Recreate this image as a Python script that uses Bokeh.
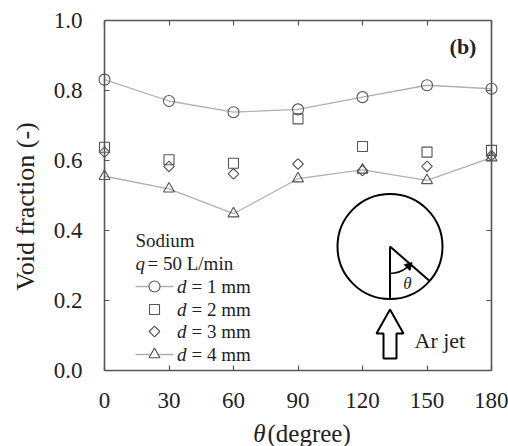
import math
from bokeh.plotting import figure
from bokeh.models import Range1d, LinearAxis, FixedTicker, CustomJSTickFormatter, NumeralTickFormatter
from bokeh.core.properties import value
from bokeh.embed import file_html
from bokeh.resources import INLINE

# ---- data ----
theta = [0, 30, 60, 90, 120, 150, 180]
d1 = [0.831, 0.770, 0.738, 0.746, 0.781, 0.815, 0.805]
d2 = [0.638, 0.602, 0.592, 0.719, 0.640, 0.624, 0.629]
d3 = [0.624, 0.583, 0.562, 0.590, 0.571, 0.583, 0.614]
d4 = [0.555, 0.519, 0.448, 0.548, 0.573, 0.543, 0.608]
x_ticks = [0, 30, 60, 90, 120, 150, 180]
y_ticks = [0.0, 0.2, 0.4, 0.6, 0.8, 1.0]
legend_labels = ["= 1 mm", "= 2 mm", "= 3 mm", "= 4 mm"]

# ---- layout ----
W, H = 508, 446
L, R, T, B = 104, 491, 20, 370   # axes box in pixels
FONT = "Liberation Serif"
MK = "#555555"
LN = "#b0b0b0"
AX = "#555555"


def X(px):
    return (px - L) / (R - L) * 180.0


def Y(py):
    return (B - py) / (B - T) * 1.0


p = figure(width=W, height=H, x_range=Range1d(X(0), X(W)), y_range=Range1d(Y(H), Y(0)),
           output_backend="svg", toolbar_location=None,
           x_axis_location=None, y_axis_location=None, min_border=0)
p.outline_line_color = None
p.xgrid.visible = False
p.ygrid.visible = False
p.background_fill_color = "white"
p.border_fill_color = "white"

blank = CustomJSTickFormatter(code="return ''")
bottom = LinearAxis(ticker=FixedTicker(ticks=x_ticks), fixed_location=0, bounds=(0, 180))
left = LinearAxis(ticker=FixedTicker(ticks=y_ticks), fixed_location=0, bounds=(0, 1),
                  formatter=NumeralTickFormatter(format="0.0"))
right = LinearAxis(ticker=FixedTicker(ticks=y_ticks), formatter=blank, fixed_location=180, bounds=(0, 1))
top = LinearAxis(ticker=FixedTicker(ticks=x_ticks), formatter=blank, fixed_location=1.0, bounds=(0, 180))
p.add_layout(bottom, "below")
p.add_layout(left, "left")
p.add_layout(right, "right")
p.add_layout(top, "above")

for ax in (bottom, left, right, top):
    ax.axis_line_color = AX
    ax.axis_line_width = 1.6
    ax.major_tick_line_color = AX
    ax.major_tick_line_width = 1.2
    ax.major_tick_in = 5
    ax.major_tick_out = 0
    ax.minor_tick_line_color = None
    ax.major_label_text_font = FONT
    ax.major_label_text_font_size = "23px"
    ax.major_label_text_color = "#222222"
right.major_label_standoff = 0
top.major_label_standoff = 0
left.major_label_standoff = 22
bottom.major_label_standoff = 22

# ---- series ----
p.line(theta, d1, line_color=LN, line_width=1.3)
p.line(theta, d4, line_color=LN, line_width=1.3)
p.scatter(theta, d1, marker="circle", size=11, fill_color=None, line_color=MK, line_width=1.1)
p.scatter(theta, d2, marker="square", size=10, fill_color=None, line_color=MK, line_width=1.1)
p.scatter(theta, d3, marker="square", size=7.5, angle=math.pi / 4, fill_color=None, line_color=MK, line_width=1.1)
p.scatter(theta, d4, marker="triangle", size=11, fill_color=None, line_color=MK, line_width=1.1)


def txt(x, y, s, size="19px", style="normal", align="left", baseline="middle", color="#222222", angle=0.0):
    p.text(x=[x], y=[y], text=[s], text_font=value(FONT), text_font_size=value(size),
           text_font_style=style, text_align=align, text_baseline=baseline, text_color=color,
           angle=angle)


# ---- axis titles ----
txt(X(25), Y(206), "Void fraction (-)", size="26px", align="center", angle=math.pi / 2)
txt(X(265), Y(433), "θ", size="25px", style="italic", align="right")
txt(X(267), Y(433), "(degree)", size="25px")

# ---- legend (manual, for italic d / q) ----
txt(X(135), Y(240), "Sodium")
txt(X(135), Y(263), "q", style="italic")
txt(X(147), Y(263), "= 50 L/min")
ly = [286, 309, 331, 354]
markers = ["circle", "square", "square", "triangle"]
sizes = [11, 10, 7.5, 11]
angles = [0, 0, math.pi / 4, 0]
for i, (py, mk, sz, an, lab) in enumerate(zip(ly, markers, sizes, angles, legend_labels)):
    if i in (0, 3):
        p.line([X(135), X(173)], [Y(py), Y(py)], line_color=LN, line_width=1.3)
    p.scatter([X(154)], [Y(py)], marker=mk, size=sz, angle=an,
              fill_color="white" if i in (0, 3) else None, line_color=MK, line_width=1.1)
    txt(X(176.5), Y(py), "d", style="italic")
    txt(X(191), Y(py), lab)

# ---- panel label ----
txt(X(462.5), Y(46), "(b)", size="22px", style="bold", align="center")

# ---- inset sketch ----
cx, cy = 389.5, 246
p.scatter([X(cx)], [Y(cy)], marker="circle", size=105, fill_color=None, line_color="black", line_width=2)
p.line([X(cx), X(cx)], [Y(cy), Y(298.5)], line_color="black", line_width=2)
ang = math.radians(49)
p.line([X(cx), X(cx + 52.5 * math.sin(ang))], [Y(cy), Y(cy + 52.5 * math.cos(ang))],
       line_color="black", line_width=2)
p.arc(x=[X(cx)], y=[Y(cy)], radius=27, radius_units="screen",
      start_angle=math.radians(-90), end_angle=math.radians(-50),
      line_color="black", line_width=1.5)
ea = math.radians(-46)
p.scatter([X(cx + 27 * math.cos(ea))], [Y(cy - 27 * math.sin(ea))], marker="triangle", size=8,
          angle=math.radians(-46), fill_color="black", line_color="black")
txt(X(407), Y(283), "θ", size="17px", style="italic", align="center")

# arrow
ax_px = [389.5, 403, 396, 396, 383, 383, 376]
ay_px = [309, 333, 333, 358, 358, 333, 333]
p.patch([X(v) for v in ax_px], [Y(v) for v in ay_px], fill_color="white", line_color="black", line_width=2)
txt(X(414), Y(340), "Ar jet", size="22px")

open("out.html", "w").write(file_html(p, INLINE))
